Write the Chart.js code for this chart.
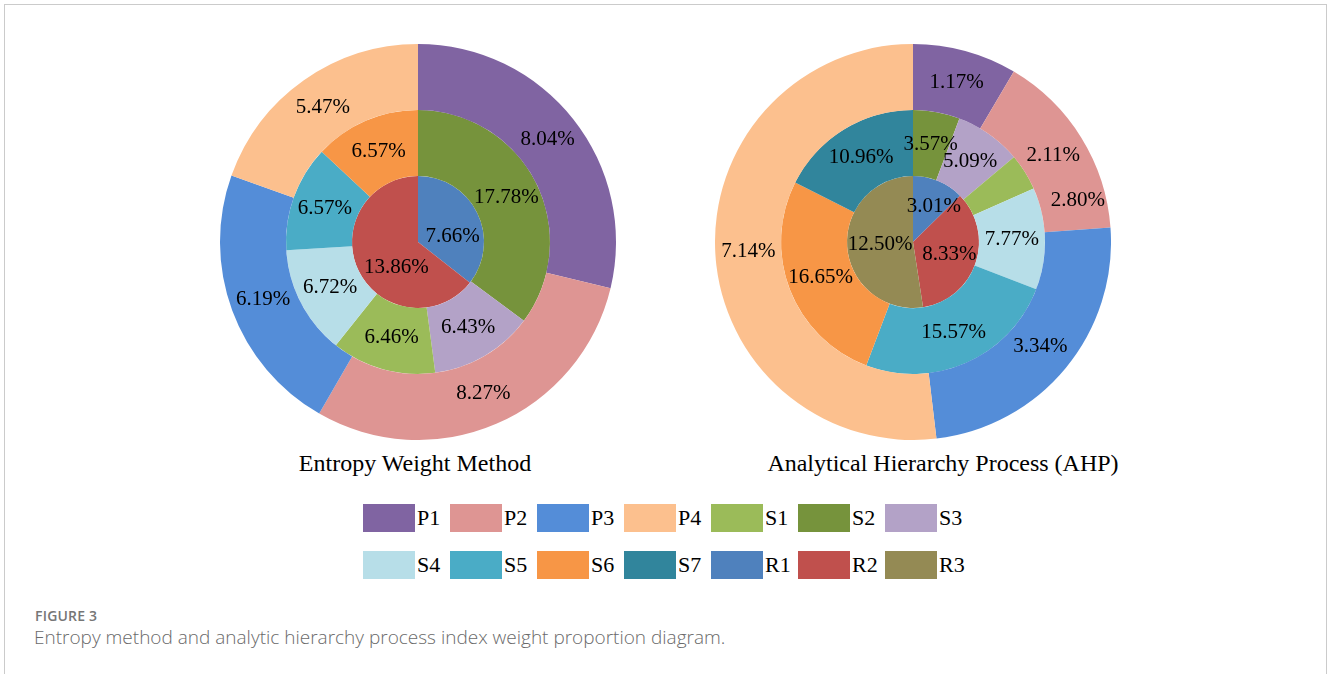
<!DOCTYPE html>
<html>
<head>
<meta charset="utf-8">
<script src="https://cdn.jsdelivr.net/npm/chart.js@4.4.1/dist/chart.umd.min.js"></script>
<style>
  html, body { margin: 0; padding: 0; background: #fff; }
  body { width: 1328px; height: 674px; position: relative; overflow: hidden; }
  .frame { position: absolute; left: 4px; top: 4px; width: 1321px; height: 700px;
           border: 1px solid #cbcbcb; border-bottom: none; }
  .pie { position: absolute; top: 44px; width: 396px; height: 396px; }
  .title { position: absolute; top: 450px; font: 24px "Liberation Serif", "Times New Roman", serif;
           color: #000; white-space: nowrap; transform: translateX(-50%); }
  .legend { position: absolute; left: 363px; top: 504px; display: grid;
            grid-template-columns: repeat(7, 87px); row-gap: 19px; }
  .legend div { display: flex; align-items: center; height: 28px;
                font: 22px "Liberation Serif", "Times New Roman", serif; color: #000; }
  .legend span { display: inline-block; width: 52px; height: 28px; margin-right: 2px; }
  .fig { position: absolute; left: 35px; top: 606px; font: 600 14px "Open Sans", sans-serif;
         color: #767676; letter-spacing: 0.2px; }
  .cap { position: absolute; left: 34px; top: 624px; font: 300 19px "Open Sans", sans-serif;
         color: #6a6a6a; white-space: nowrap; }
</style>
</head>
<body>
<div class="frame"></div>
<div class="pie" style="left:220px"><canvas id="entropy"></canvas></div>
<div class="pie" style="left:715px"><canvas id="ahp"></canvas></div>
<div class="title" style="left:415px">Entropy Weight Method</div>
<div class="title" style="left:943px">Analytical Hierarchy Process (AHP)</div>
<div class="legend" id="legend"></div>
<div class="fig">FIGURE 3</div>
<div class="cap">Entropy method and analytic hierarchy process index weight proportion diagram.</div>

<script>
// rings: outer = P, middle = S, inner = R (values are the % shown on the slices)
const pLabels = ["P1", "P2", "P3", "P4"];
const sLabels = ["S2", "S3", "S1", "S4", "S5", "S6", "S7"];
const rLabels = ["R1", "R2", "R3"];

const entropyP = [8.04, 8.27, 6.19, 5.47];
const entropyS = [17.78, 6.43, 6.46, 6.72, 6.57, 6.57, 0];
const entropyR = [7.66, 13.86, 0];

const ahpP = [1.17, 2.11, 3.34, 7.14];
const ahpS = [3.57, 5.09, 2.80, 7.77, 15.57, 16.65, 10.96];
const ahpR = [3.01, 8.33, 12.50];

const legendOrder = ["P1", "P2", "P3", "P4", "S1", "S2", "S3", "S4", "S5", "S6", "S7", "R1", "R2", "R3"];

const colors = {
  P1: "#8064a2", P2: "#de9593", P3: "#548dd8", P4: "#fcc08e",
  S1: "#9bbb59", S2: "#76933c", S3: "#b3a2c7", S4: "#b7dee8",
  S5: "#4aacc6", S6: "#f79646", S7: "#31859c",
  R1: "#4f81bd", R2: "#c0504d", R3: "#948a54"
};

// percent labels at each slice centroid
const pctLabels = {
  id: "pctLabels",
  afterDatasetsDraw(chart, args, opts) {
    const c = chart.ctx;
    c.save();
    c.font = '21px "Liberation Serif", "Times New Roman", serif';
    c.fillStyle = "#000";
    c.textAlign = "center";
    c.textBaseline = "middle";
    chart.data.datasets.forEach((ds, di) => {
      chart.getDatasetMeta(di).data.forEach((arc, i) => {
        const v = ds.data[i];
        if (!v) return;
        let { x, y } = arc.tooltipPosition();
        const n = opts.nudge && opts.nudge[di + ":" + i];
        if (n) { x += n[0]; y += n[1]; }
        c.fillText(v.toFixed(2) + "%", x, y);
      });
    });
    c.restore();
  }
};

function ring(labels, values) {
  return {
    data: values,
    backgroundColor: labels.map(l => colors[l]),
    borderWidth: 0
  };
}

function makePie(id, p, s, r, nudge) {
  return new Chart(document.getElementById(id), {
    type: "doughnut",
    data: {
      datasets: [ring(pLabels, p), ring(sLabels, s), ring(rLabels, r)]
    },
    options: {
      responsive: true,
      maintainAspectRatio: false,
      animation: false,
      cutout: 0,
      layout: { padding: 0 },
      plugins: {
        legend: { display: false },
        tooltip: { enabled: false },
        pctLabels: { nudge: nudge }
      }
    },
    plugins: [pctLabels]
  });
}

makePie("entropy", entropyP, entropyS, entropyR, { "2:0": [5, 9], "2:1": [8, 11] });
// S1 label in the AHP chart sits out in the P2 band
makePie("ahp", ahpP, ahpS, ahpR, { "1:2": [81, 11], "2:0": [8, -5], "2:1": [5, 2] });

const legend = document.getElementById("legend");
legendOrder.forEach(l => {
  const d = document.createElement("div");
  d.innerHTML = '<span style="background:' + colors[l] + '"></span>' + l;
  legend.appendChild(d);
});
</script>
</body>
</html>
